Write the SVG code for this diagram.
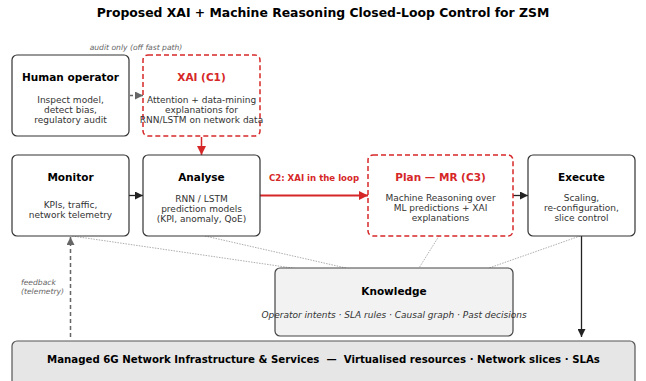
<svg xmlns="http://www.w3.org/2000/svg" width="646" height="381" viewBox="0 0 646 381">
  <style>
    text { font-family: "DejaVu Sans", "Liberation Sans", sans-serif; text-anchor: middle; }
    .title { font-size: 12.4px; font-weight: bold; fill: #000; }
    .box { fill: #fff; stroke: #333; stroke-width: 1.2; }
    .red { fill: #fff; stroke: #d62728; stroke-width: 1.5; stroke-dasharray: 5 3; }
    .head { font-size: 10.5px; font-weight: bold; fill: #000; }
    .headred { font-size: 10.5px; font-weight: bold; fill: #d62728; }
    .body { font-size: 9px; fill: #333; }
    .note { font-size: 7.6px; font-style: italic; fill: #666; }
    .know { fill: #f2f2f2; stroke: #444; stroke-width: 1.2; }
    .infra { fill: #e6e6e6; stroke: #555; stroke-width: 1.2; }
    .dot { stroke: #8a8a8a; stroke-width: 0.7; stroke-dasharray: 1.5 1.2; fill: none; }
  </style>
  <defs>
    <marker id="ahBlack" markerUnits="userSpaceOnUse" markerWidth="9" markerHeight="8" refX="8" refY="4" orient="auto">
      <path d="M0,0 L8,4 L0,8 Z" fill="#222"/>
    </marker>
    <marker id="ahRed" markerUnits="userSpaceOnUse" markerWidth="10" markerHeight="9" refX="9" refY="4.5" orient="auto">
      <path d="M0,0 L9,4.5 L0,9 Z" fill="#d62728"/>
    </marker>
    <marker id="ahGray" markerUnits="userSpaceOnUse" markerWidth="9" markerHeight="8" refX="8" refY="4" orient="auto">
      <path d="M0,0 L8,4 L0,8 Z" fill="#666"/>
    </marker>
  </defs>

  <text class="title" x="323" y="16.5">Proposed XAI + Machine Reasoning Closed-Loop Control for ZSM</text>

  <!-- connectors -->
  <g id="connectors">
    <line class="dot" x1="72" y1="236" x2="299" y2="269"/>
    <line class="dot" x1="205" y1="236" x2="346" y2="268"/>
    <line class="dot" x1="439" y1="236" x2="419" y2="268"/>
    <line class="dot" x1="580" y1="236" x2="489" y2="268"/>
    <line x1="130" y1="95.5" x2="143" y2="95.5" stroke="#666" stroke-width="1.3" stroke-dasharray="3 2" marker-end="url(#ahGray)"/>
    <line x1="201.5" y1="137" x2="201.5" y2="155" stroke="#d62728" stroke-width="1.5" marker-end="url(#ahRed)"/>
    <line x1="129" y1="195.5" x2="143" y2="195.5" stroke="#222" stroke-width="1.3" marker-end="url(#ahBlack)"/>
    <line x1="260" y1="195.5" x2="368" y2="195.5" stroke="#d62728" stroke-width="2" marker-end="url(#ahRed)"/>
    <text x="314" y="180.5" style="font-size:8.6px;font-weight:bold;fill:#d62728">C2: XAI in the loop</text>
    <line x1="513" y1="195.5" x2="528" y2="195.5" stroke="#222" stroke-width="1.3" marker-end="url(#ahBlack)"/>
    <line x1="581.5" y1="236" x2="581.5" y2="337" stroke="#222" stroke-width="1.3" marker-end="url(#ahBlack)"/>
    <line x1="70.5" y1="337" x2="70.5" y2="237" stroke="#666" stroke-width="1.5" stroke-dasharray="4 3" marker-end="url(#ahGray)"/>
    <text class="note" x="136" y="49.5">audit only (off fast path)</text>
    <text class="note" x="21" y="284.5" style="text-anchor:start">feedback</text>
    <text class="note" x="21" y="293.5" style="text-anchor:start">(telemetry)</text>
  </g>

  <g id="human">
    <rect class="box" x="12" y="55" width="117" height="81" rx="5"/>
    <text class="head" x="70.5" y="81">Human operator</text>
    <text class="body" x="70.5" y="102.6">Inspect model,</text>
    <text class="body" x="70.5" y="112.6">detect bias,</text>
    <text class="body" x="70.5" y="122.6">regulatory audit</text>
  </g>

  <g id="xai">
    <rect class="red" x="143" y="55" width="117" height="81" rx="5"/>
    <text class="headred" x="201.5" y="81">XAI (C1)</text>
    <text class="body" x="201.5" y="102.6">Attention + data-mining</text>
    <text class="body" x="201.5" y="112.6">explanations for</text>
    <text class="body" x="201.5" y="122.6">RNN/LSTM on network data</text>
  </g>

  <g id="monitor">
    <rect class="box" x="12" y="155" width="117" height="81" rx="5"/>
    <text class="head" x="70.5" y="181">Monitor</text>
    <text class="body" x="70.5" y="207.6">KPIs, traffic,</text>
    <text class="body" x="70.5" y="217.6">network telemetry</text>
  </g>

  <g id="analyse">
    <rect class="box" x="143" y="155" width="117" height="81" rx="5"/>
    <text class="head" x="201.5" y="181">Analyse</text>
    <text class="body" x="201.5" y="201.6">RNN / LSTM</text>
    <text class="body" x="201.5" y="211.6">prediction models</text>
    <text class="body" x="201.5" y="221.6">(KPI, anomaly, QoE)</text>
  </g>

  <g id="plan">
    <rect class="red" x="368" y="155" width="145" height="81" rx="5"/>
    <text class="headred" x="440.5" y="181">Plan — MR (C3)</text>
    <text class="body" x="440.5" y="201">Machine Reasoning over</text>
    <text class="body" x="440.5" y="211">ML predictions + XAI</text>
    <text class="body" x="440.5" y="221">explanations</text>
  </g>

  <g id="execute">
    <rect class="box" x="528" y="155" width="107" height="81" rx="5"/>
    <text class="head" x="581.5" y="181">Execute</text>
    <text class="body" x="581.5" y="201">Scaling,</text>
    <text class="body" x="581.5" y="211">re-configuration,</text>
    <text class="body" x="581.5" y="221">slice control</text>
  </g>

  <g id="knowledge">
    <rect class="know" x="275" y="268" width="238" height="68" rx="5"/>
    <text class="head" x="394" y="295">Knowledge</text>
    <text class="body" x="394" y="318.3" style="font-style:italic">Operator intents · SLA rules · Causal graph · Past decisions</text>
  </g>

  <g id="infrastructure">
    <rect class="infra" x="12" y="341" width="623" height="50" rx="5"/>
    <text class="head" x="323.5" y="362.8" style="font-size:10.2px;white-space:pre" xml:space="preserve">Managed 6G Network Infrastructure &amp; Services  —  Virtualised resources · Network slices · SLAs</text>
  </g>
</svg>
